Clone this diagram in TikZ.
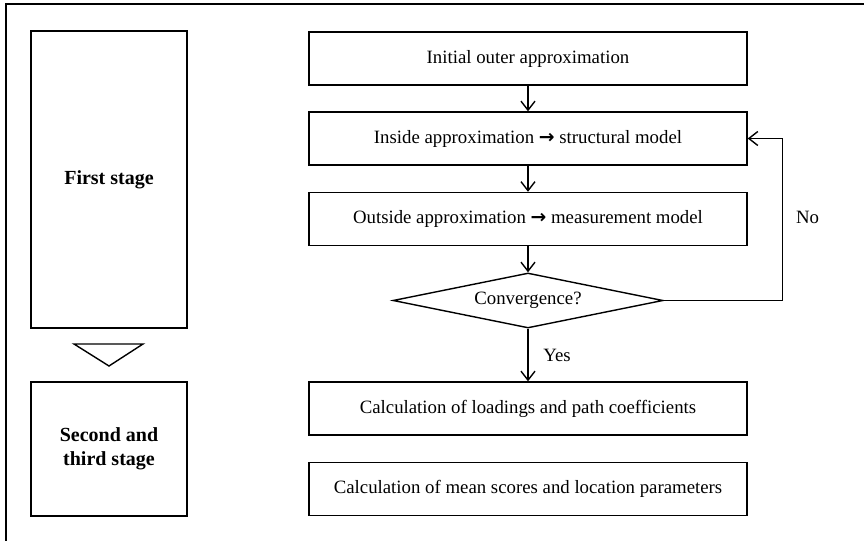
\documentclass[tikz,border=0pt]{standalone}
\usepackage{fontspec}
\setmainfont{Liberation Serif}
\newfontfamily\arrowfont{DejaVu Sans}
\usetikzlibrary{arrows.meta,positioning,shapes.geometric}

\newcommand{\thickto}{{\arrowfont\bfseries →}}

\tikzset{
    stepbox/.style={draw,line width=0.7pt,minimum width=219pt,minimum height=26.5pt,inner sep=2pt},
    stagebox/.style={draw,line width=0.7pt,minimum width=78pt,font=\bfseries,align=center},
    decide/.style={draw,diamond,line width=0.7pt,minimum width=135pt,minimum height=27.5pt,inner sep=0pt,aspect=4.9},
    arr/.style={line width=0.7pt,-{Straight Barb[length=4.5pt,width=7pt,line width=0.7pt]}}
}

\begin{document}
\begin{tikzpicture}[x=0.5pt,y=-0.5pt,font=\fontsize{9.4}{11}\selectfont]
        \useasboundingbox (0,0) rectangle (864,541);

        % Outer frame (cut at right and bottom)
        \draw[line width=0.7pt] (6,541) -- (6,4) -- (864,4);

        % Stages on the left
        \node[stagebox,minimum height=148.5pt] (first) at (109,179.5) {First stage};
        \node[stagebox,minimum height=67pt] (second) at (109,449) {Second and\\third stage};
        \draw[line width=0.7pt] (74,344) -- (143,344) -- (109,366) -- cycle;

        % Algorithm steps
        \node[stepbox] (init) at (528,58.5) {Initial outer approximation};
        \node[stepbox] (inside) at (528,138.5) {Inside approximation \thickto{} structural model};
        \node[stepbox] (outside) at (528,219) {Outside approximation \thickto{} measurement model};
        \node[decide] (conv) at (528,300.5) {Convergence?};
        \node[stepbox] (load) at (528,408.5) {Calculation of loadings and path coefficients};
        \node[stepbox] (mean) at (528,489) {Calculation of mean scores and location parameters};

        % Connectors
        \draw[arr] (init) -- (inside);
        \draw[arr] (inside) -- (outside);
        \draw[arr] (outside) -- (conv);
        \draw[arr] (conv) -- node[midway,right=4pt] {Yes} (load);
        \draw[arr] (conv.east) -- ++(119,0) |- node[pos=0.255,right=3pt] {No} (inside.east);
\end{tikzpicture}
\end{document}
